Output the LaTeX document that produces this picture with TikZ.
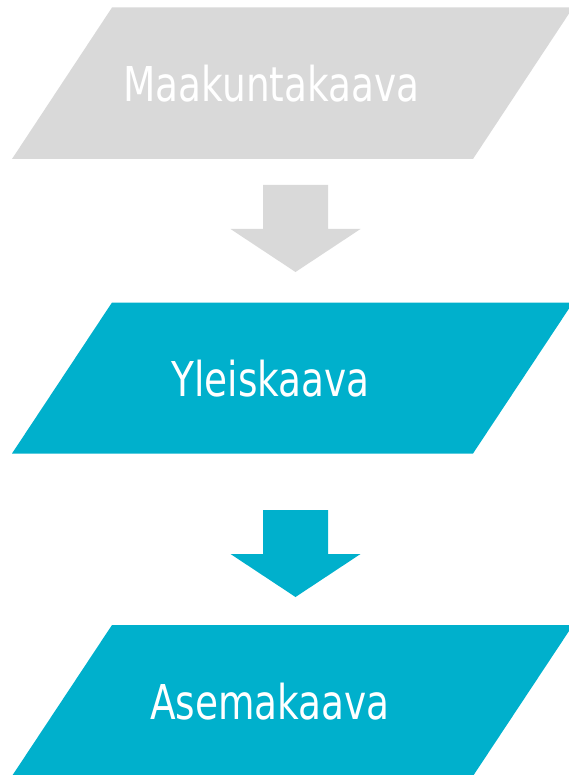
\documentclass[tikz,border=0pt]{standalone}
\usepackage{fontspec}
\newfontfamily\tahlike[FakeStretch=0.78]{DejaVu Sans}
\definecolor{boxgray}{HTML}{D9D9D9}
\definecolor{boxteal}{HTML}{00B0CC}
\begin{document}
\begin{tikzpicture}[x=1pt,y=-1pt,
  lbl/.style={anchor=base,inner sep=0pt,text=white,font=\tahlike\fontsize{48}{56}\selectfont}]
\useasboundingbox (0,0) rectangle (569,775);
\clip (0,0) rectangle (569,775);
% parallelograms
\fill[boxgray] (12,159) -- (473,159) -- (573,7.5) -- (112,7.5) -- cycle;
\fill[boxteal] (12,453.5) -- (473,453.5) -- (573,302.5) -- (112,302.5) -- cycle;
\fill[boxteal] (12,776) -- (473,776) -- (573,625) -- (112,625) -- cycle;
% block arrows
\fill[boxgray] (263,185) -- (328,185) -- (328,229) -- (360.5,229) -- (295.5,272) -- (230.5,229) -- (263,229) -- cycle;
\fill[boxteal] (263,510) -- (328,510) -- (328,554) -- (360.5,554) -- (295.5,597) -- (230.5,554) -- (263,554) -- cycle;
% labels
\node[lbl] (maak) at (271.5,101.7) {Maakuntakaava};
\node[lbl] (yleis) at (270.7,396.7) {Yleiskaava};
\node[lbl] (asema) at (270,719.3) {Asemakaava};
\end{tikzpicture}
\end{document}
